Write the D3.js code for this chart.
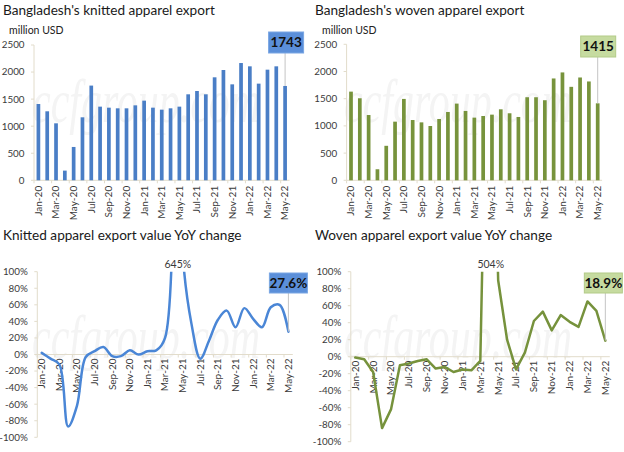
<!DOCTYPE html>
<html><head><meta charset="utf-8">
<script src="https://cdn.jsdelivr.net/npm/d3@7"></script>
<style>
body{margin:0;background:#fff}
svg{display:block}
text{font-family:Lato,"Liberation Sans",sans-serif}
</style>
</head><body>
<svg id="c" width="624" height="452"></svg>
<script>
// ---- data ----
const months = ["Jan-20","Feb-20","Mar-20","Apr-20","May-20","Jun-20","Jul-20","Aug-20","Sep-20","Oct-20","Nov-20","Dec-20",
  "Jan-21","Feb-21","Mar-21","Apr-21","May-21","Jun-21","Jul-21","Aug-21","Sep-21","Oct-21","Nov-21","Dec-21",
  "Jan-22","Feb-22","Mar-22","Apr-22","May-22"];
const knittedExport = [1410,1275,1053,179,616,1164,1750,1361,1342,1330,1330,1385,1472,1342,1305,1330,1361,1589,1650,1589,1903,2038,1773,2167,2106,1786,2044,2106,1743];
const wovenExport = [1630,1508,1200,203,634,1078,1496,1108,1065,998,1127,1256,1410,1275,1152,1182,1207,1305,1232,1164,1527,1527,1472,1872,1983,1718,1890,1817,1415];
const knittedYoY = [2,-5,-12,-87,-62,-3,4,9,-2,-2,5,0,4,5,20,645,121,37,-5,17,42,53,33,56,43,33,57,60,27.6];
const wovenYoY = [-1,-3,-18,-84,-62,-10,-8,-5,-3,-14,-12,-18,-15,-16,-5,504,90,20,-15,5,42,53,31,49,41,35,65,54,18.9];
const exportTicks = [0,500,1000,1500,2000,2500];
const yoyTicks = [-100,-80,-60,-40,-20,0,20,40,60,80,100];
const titles = ["Bangladesh's knitted apparel export","Bangladesh's woven apparel export",
  "Knitted apparel export value YoY change","Woven apparel export value YoY change"];
const unitLabel = "million USD";
const watermarkText = "ccfgroup.com";

const svg = d3.select("#c");
const axisColor = "#e2dccb";
const textColor = "#3a3a3a";

function watermark(x, y) {
  svg.append("text").attr("transform", `translate(${x},${y}) scale(1,1.45)`)
    .style("font-family", "'Liberation Serif',serif").style("font-style", "italic")
    .style("font-size", "42px").attr("fill", "#f4f4f4").text(watermarkText);
}

function xLabels(g, x, y0, every) {
  months.forEach((m, i) => {
    if (i % every) return;
    const cx = x(m) + x.bandwidth() / 2;
    g.append("text").attr("transform", `translate(${cx + 3.4},${y0}) rotate(-90)`)
      .attr("text-anchor", "end").style("font-size", "10px").attr("fill", textColor).text(m);
  });
}

function yAxis(g, y, ticks, x0, fmt) {
  g.append("line").attr("x1", x0).attr("x2", x0).attr("y1", y(ticks[0])).attr("y2", y(ticks[ticks.length-1]))
    .attr("stroke", axisColor);
  ticks.forEach(t => {
    g.append("line").attr("x1", x0 - 3).attr("x2", x0).attr("y1", y(t)).attr("y2", y(t)).attr("stroke", axisColor);
    g.append("text").attr("x", x0 - 9.5).attr("y", y(t) + 3.4).attr("text-anchor", "end")
      .style("font-size", "9.8px").attr("fill", textColor).text(fmt(t));
  });
}

function xAxisLine(g, x, yPos) {
  const [a, b] = x.range();
  g.append("line").attr("x1", a).attr("x2", b).attr("y1", yPos).attr("y2", yPos).attr("stroke", axisColor);
  for (let i = 0; i <= months.length; i += 2) {
    const px = a + i * x.step();
    g.append("line").attr("x1", px).attr("x2", px).attr("y1", yPos).attr("y2", yPos + 3).attr("stroke", axisColor);
  }
}

function callout(g, text, cx, top, w, h, fill, stroke, px, py) {
  g.append("line").attr("x1", px).attr("x2", px).attr("y1", top + h).attr("y2", py)
    .attr("stroke", "#c4c4c4").attr("stroke-width", 1);
  g.append("rect").attr("x", cx - w/2).attr("y", top).attr("width", w).attr("height", h)
    .attr("fill", fill).attr("stroke", stroke).attr("stroke-width", 1);
  g.append("text").attr("x", cx).attr("y", top + h/2 + 4.8).attr("text-anchor", "middle")
    .style("font-size", "13.5px").style("font-weight", "bold").attr("fill", "#111").text(text);
}

function title(g, x, y, t) {
  g.append("text").attr("x", x).attr("y", y).style("font-size", "13.6px").attr("fill", "#1a1a1a").text(t);
}

function barPanel(cfg) {
  watermark(cfg.wm[0], cfg.wm[1]);
  const g = svg.append("g");
  title(g, cfg.tx, 15, cfg.title);
  g.append("text").attr("x", cfg.ux).attr("y", 33.5).style("font-size", "10.5px").attr("fill", "#222").text(unitLabel);
  const x = d3.scaleBand().domain(months).range(cfg.xr).paddingInner(0.58).paddingOuter(0.29);
  const y = d3.scaleLinear().domain([0, 2500]).range(cfg.yr);
  yAxis(g, y, exportTicks, cfg.xr[0], d => d);
  xAxisLine(g, x, y(0));
  g.selectAll(".bar").data(cfg.values).enter().append("rect")
    .attr("x", (d, i) => x(months[i])).attr("width", x.bandwidth())
    .attr("y", d => y(d)).attr("height", d => y(0) - y(d)).attr("fill", cfg.color);
  xLabels(g, x, y(0) + 5.5, 2);
  const li = months.length - 1;
  const lx = x(months[li]) + x.bandwidth() / 2;
  callout(g, String(cfg.values[li]), lx + cfg.cdx, cfg.ctop, 35, 21, cfg.cfill, cfg.cstroke, lx, y(cfg.values[li]));
}

function linePanel(cfg) {
  watermark(cfg.wm[0], cfg.wm[1]);
  const g = svg.append("g");
  title(g, cfg.tx, 240, cfg.title);
  const x = d3.scaleBand().domain(months).range(cfg.xr);
  const y = d3.scaleLinear().domain([-100, 100]).range(cfg.yr);
  yAxis(g, y, yoyTicks, cfg.xr[0], d => d + "%");
  xAxisLine(g, x, y(0));
  xLabels(g, x, y(0) + 4, 2);
  const clipId = "clip" + cfg.id;
  svg.append("clipPath").attr("id", clipId).append("rect")
    .attr("x", cfg.xr[0]).attr("y", y(100)).attr("width", cfg.xr[1] - cfg.xr[0] + 10).attr("height", y(-100) - y(100));
  const line = d3.line().x((d, i) => x(months[i]) + x.bandwidth() / 2).y(d => y(d)).curve(cfg.curve);
  g.append("path").datum(cfg.values).attr("clip-path", `url(#${clipId})`)
    .attr("d", line).attr("fill", "none").attr("stroke", cfg.color).attr("stroke-width", 2.5)
    .attr("stroke-linejoin", "round").attr("stroke-linecap", "round");
  const pi = cfg.values.indexOf(d3.max(cfg.values));
  g.append("text").attr("x", x(months[pi]) + x.bandwidth() / 2 + cfg.pdx).attr("y", 268)
    .attr("text-anchor", "middle").style("font-size", "10.5px").attr("fill", textColor).text(cfg.values[pi] + "%");
  const li = months.length - 1;
  const lx = x(months[li]) + x.bandwidth() / 2;
  callout(g, cfg.values[li].toFixed(1) + "%", lx + cfg.cdx, 273, 38, 20, cfg.cfill, cfg.cstroke, lx, y(cfg.values[li]));
}

barPanel({title: titles[0], tx: 3, ux: 9, xr: [34, 289.5], yr: [180.3, 45], values: knittedExport,
  color: "#4a7ec6", cfill: "#5b8fd9", cstroke: "#7aa6e3", ctop: 32, cdx: 1, wm: [32, 122]});
barPanel({title: titles[1], tx: 315, ux: 322, xr: [346.6, 602.1], yr: [180.3, 44.3], values: wovenExport,
  color: "#77933c", cfill: "#c6dba0", cstroke: "#b3cb88", ctop: 36, cdx: 0.5, wm: [344, 122]});
linePanel({id: 1, title: titles[2], tx: 3, xr: [37.3, 292.8], yr: [437.3, 271.7], values: knittedYoY,
  color: "#4a86d6", curve: d3.curveCatmullRom.alpha(0.5), pdx: 4, cfill: "#5b8fd9", cstroke: "#7aa6e3", cdx: 0, wm: [32, 358]});
linePanel({id: 2, title: titles[3], tx: 315, xr: [350.8, 609.8], yr: [441.7, 271.7], values: wovenYoY,
  color: "#76923c", curve: d3.curveLinear, pdx: 1.5, cfill: "#c6dba0", cstroke: "#b3cb88", cdx: -2, wm: [344, 358]});
</script>
</body></html>
